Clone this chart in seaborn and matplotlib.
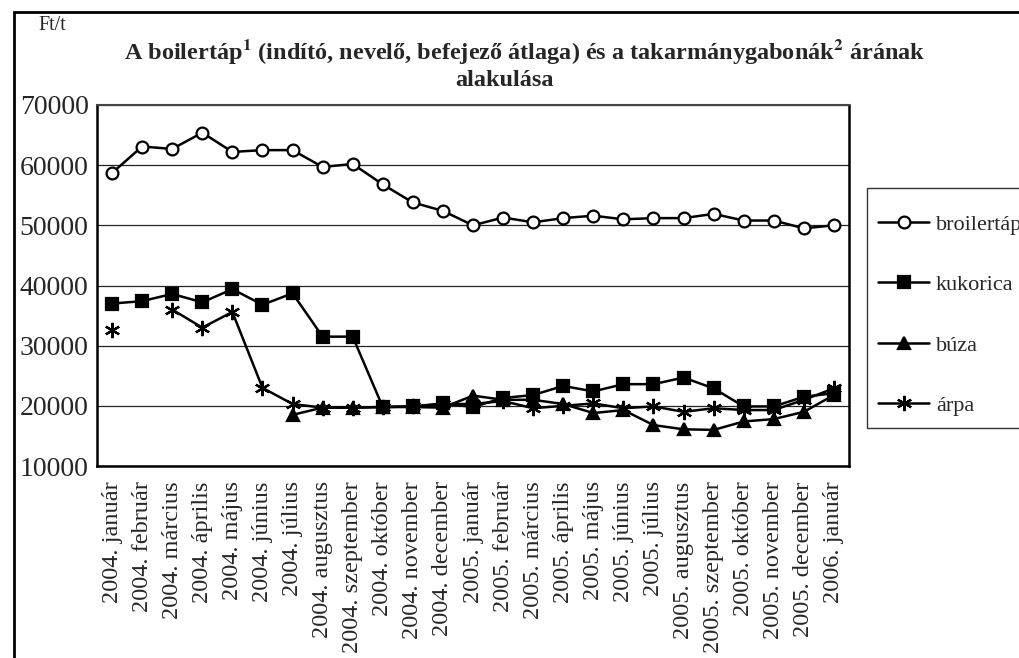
import numpy as np
import pandas as pd
import matplotlib
matplotlib.use("Agg")
import matplotlib.pyplot as plt
import seaborn as sns
from matplotlib.lines import Line2D
from matplotlib.patches import Rectangle

# Data (Ft/t)
months = [
    "2004. január", "2004. február", "2004. március", "2004. április", "2004. május",
    "2004. június", "2004. július", "2004. augusztus", "2004. szeptember", "2004. október",
    "2004. november", "2004. december", "2005. január", "2005. február", "2005. március",
    "2005. április", "2005. május", "2005. június", "2005. július", "2005. augusztus",
    "2005. szeptember", "2005. október", "2005. november", "2005. december", "2006. január",
]
broilertap = [58700, 63100, 62700, 65400, 62200, 62500, 62500, 59700, 60200, 56800,
              53800, 52400, 50000, 51300, 50500, 51200, 51600, 51000, 51200, 51200,
              51900, 50800, 50800, 49500, 50000]
kukorica = [37000, 37400, 38600, 37200, 39400, 36800, 38700, 31500, 31500, 19800,
            19900, 20400, 19800, 21300, 21800, 23300, 22400, 23600, 23600, 24700,
            22900, 19900, 19900, 21500, 22100]
buza = [np.nan, np.nan, np.nan, np.nan, np.nan, np.nan, 18500, 19700, 19700, 19800,
        19800, 19700, 21700, 21000, 21000, 20300, 18800, 19300, 16800, 16100,
        16000, 17400, 17800, 19000, 21800]
arpa = [32600, np.nan, 36000, 33000, 35600, 23000, 20300, 19700, 19700, 19800,
        19900, 20300, 20300, 20800, 19600, 20000, 20400, 19600, 19900, 19000,
        19600, 19300, 19300, 21000, 22900]

series = [
    ("broilertáp", broilertap, dict(marker="o", markerfacecolor="white", markersize=8.5)),
    ("kukorica", kukorica, dict(marker="s", markerfacecolor="black", markersize=9)),
    ("búza", buza, dict(marker="^", markerfacecolor="black", markersize=9)),
    ("árpa", arpa, dict(marker=(6, 2, 0), markerfacecolor="black", markersize=11)),
]


def to_frame(values):
    # split into segments at missing values so lines show gaps
    df = pd.DataFrame({"x": np.arange(len(values)), "y": values})
    df["seg"] = df["y"].isna().cumsum()
    return df.dropna()


sns.set_style("white")
plt.rcParams["font.family"] = ["Liberation Serif", "DejaVu Serif"]
plt.rcParams["mathtext.fontset"] = "stix"

fig = plt.figure(figsize=(10.19, 6.58), dpi=100)
ax = fig.add_axes([97 / 1019, 1 - 466 / 658, (849 - 97) / 1019, (466 - 105) / 658])

for name, vals, style in series:
    d = to_frame(vals)
    sns.lineplot(data=d, x="x", y="y", units="seg", estimator=None, ax=ax,
                 color="black", linewidth=1.8, markeredgecolor="black",
                 markeredgewidth=1.6, legend=False, **style)

ax.set_xlim(-0.5, len(months) - 0.5)
ax.set_ylim(10000, 70000)
ax.set_yticks(range(10000, 70001, 10000))
ax.set_yticklabels([str(v) for v in range(10000, 70001, 10000)], fontsize=20)
ax.yaxis.grid(True, color="#222222", linewidth=0.9)
ax.set_axisbelow(True)

# boundaries as major ticks, labels on centres
ax.set_xticks(np.arange(-0.5, len(months), 1.0))
ax.set_xticklabels([])
ax.set_xticks(np.arange(len(months)), minor=True)
ax.set_xticklabels(months, minor=True, rotation=90, fontsize=17.5, va="top", ha="center")
ax.tick_params(axis="x", which="major", direction="out", length=6, width=1, color="black")
ax.tick_params(axis="x", which="minor", length=0, pad=11)
ax.tick_params(axis="y", direction="out", length=4, width=1, color="black", pad=2)
ax.set_xlabel("")
ax.set_ylabel("")
for side in ["left", "right", "top", "bottom"]:
    ax.spines[side].set_visible(True)
    ax.spines[side].set_color("black")
    ax.spines[side].set_linewidth(1.8)
ax.spines["top"].set_color("#444444")
ax.spines["top"].set_linewidth(1.5)

fig.text(525 / 1019, 1 - 52 / 658,
         r"A boilertáp$^{\mathbf{1}}$ (indító, nevelő, befejező átlaga) és a takarmánygabonák$^{\mathbf{2}}$ árának",
         ha="center", va="center", fontsize=17.5, fontweight="bold")
fig.text(505 / 1019, 1 - 80 / 658, "alakulása", ha="center", va="center",
         fontsize=17.5, fontweight="bold")
fig.text(38 / 1019, 1 - 26 / 658, "Ft/t", ha="left", va="center", fontsize=14.5)

# outer frame around the whole chart
fig.patches.append(Rectangle((14 / 1019, -0.05), 1.1, 1 - 12 / 658 + 0.05,
                             transform=fig.transFigure, fill=False,
                             edgecolor="black", linewidth=2))

# legend frame (runs past the right edge like the reference)
fig.patches.append(Rectangle((867 / 1019, 1 - 428 / 658), 0.2, 240 / 658,
                             transform=fig.transFigure, fill=True, facecolor="white",
                             edgecolor="#333333", linewidth=1.0))

handles = [Line2D([0], [0], color="black", linewidth=1.8, markeredgecolor="black",
                  markeredgewidth=1.6, **style) for _, _, style in series]
labels = [name for name, _, _ in series]
leg = fig.legend(handles, labels, loc="upper left",
                 bbox_to_anchor=(878 / 1019, 1 - 214 / 658), fontsize=16,
                 frameon=False, handlelength=2.3, handletextpad=0.3,
                 labelspacing=1.8, borderpad=0, borderaxespad=0)

fig.savefig("out.png", dpi=100)
